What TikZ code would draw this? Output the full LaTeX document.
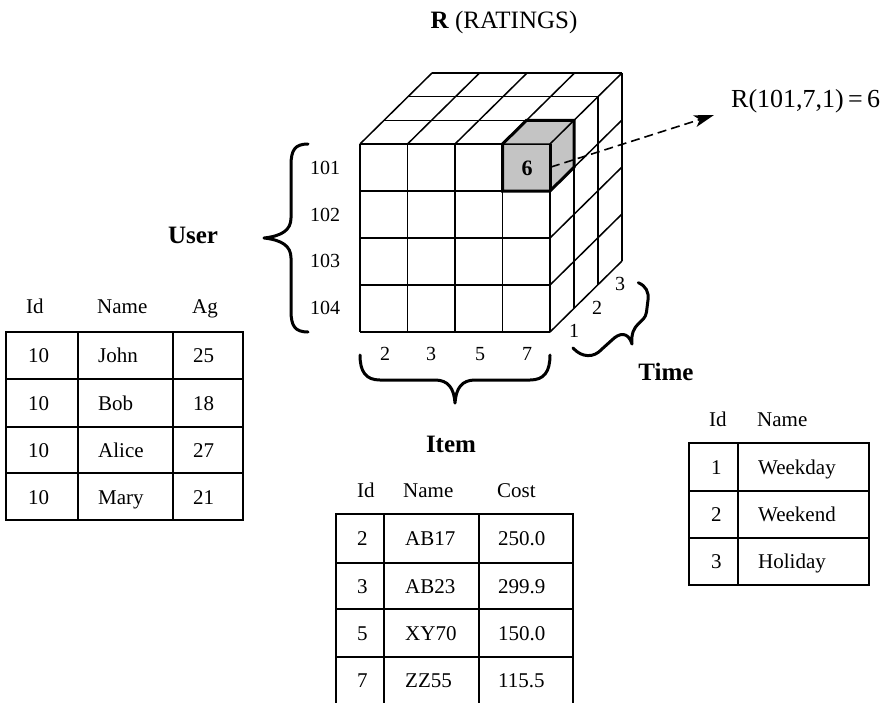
\documentclass[tikz,border=0pt]{standalone}
\usepackage{fontspec}
\setmainfont{Liberation Serif}
\usetikzlibrary{arrows.meta}
\definecolor{cellgray}{RGB}{196,196,196}
\begin{document}
\begin{tikzpicture}[x=1pt,y=-1pt,
  cube/.style={line width=1.5pt},
  tbl/.style={line width=2.2pt},
  hl/.style={line width=3pt,line join=miter},
  bracestyle/.style={line width=3pt,line cap=round,line join=round},
  txt/.style={anchor=base west,inner sep=0pt,font=\fontsize{21}{25}\selectfont},
  ctxt/.style={anchor=base,inner sep=0pt,font=\fontsize{20}{24}\selectfont},
  blabel/.style={anchor=base,inner sep=0pt,font=\fontsize{25}{30}\selectfont\bfseries}]
\useasboundingbox (0,0) rectangle (892,702);
% ---------- title
\node[anchor=base,inner sep=0pt,font=\fontsize{25}{30}\selectfont] (title) at (504,28) {\textbf{R} (RATINGS)};
% ---------- cube grid
\foreach \i in {0,...,4} \draw[cube] ({360+47.5*\i},144) -- ({360+47.5*\i},332);
\foreach \j in {0,...,4} \draw[cube] (360,{144+47*\j}) -- (550,{144+47*\j});
\foreach \i in {0,...,4} \draw[cube] ({360+47.5*\i},144) -- ++(72,-71);
\foreach \k in {1,...,3} \draw[cube] ({360+24*\k},{144-23.67*\k}) -- ++(190,0);
\foreach \k in {1,...,3} \draw[cube] ({550+24*\k},{144-23.67*\k}) -- ++(0,188);
\foreach \j in {1,...,4} \draw[cube] (550,{144+47*\j}) -- ++(72,-71);
% ---------- highlighted cell
\filldraw[hl,fill=cellgray] (502.5,144) -- (526.5,120.33) -- (574,120.33) -- (574,167.33) -- (550,191) -- (502.5,191) -- cycle;
\draw[cube] (502.5,144) -- (550,144) -- (574,120.33);
\draw[hl] (550,144) -- (550,191);
\node[anchor=base,inner sep=0pt,font=\fontsize{22}{26}\selectfont\bfseries] (six) at (527,175) {6};
% ---------- arrow and result label
\coordinate (arrstart) at (551,167);
\coordinate (arrend) at (714,115);
\draw[line width=1.6pt,dash pattern=on 9pt off 5pt,-{Stealth[length=20pt,width=12pt,inset=5pt]}] (arrstart) -- (arrend);
\node[anchor=base west,inner sep=0pt,font=\fontsize{26}{30}\selectfont] (rval) at (731,107) {R(101,7,1)\,=\,6};
% ---------- user labels and brace
\foreach \n/\y in {101/174,102/221,103/267,104/314} \node[ctxt] (u\n) at (325,\y) {\n};
\draw[bracestyle] (308,144) .. controls (295,144) and (291,150) .. (291,165) -- (291,218)
  .. controls (291,230) and (282,236) .. (264,238) .. controls (282,240) and (291,246) .. (291,258)
  -- (291,311) .. controls (291,326) and (295,332) .. (308,332);
\node[blabel] (user) at (193,243) {User};
% ---------- item labels and brace
\foreach \n/\x in {2/385,3/431,5/480,7/527} \node[ctxt] (i\n) at (\x,360) {\n};
\draw[bracestyle] (360,355) .. controls (360,372) and (366,380) .. (380,380) -- (435,380)
  .. controls (448,380) and (454,388) .. (455,403) .. controls (456,388) and (462,380) .. (475,380)
  -- (530,380) .. controls (544,380) and (550,372) .. (550,355);
\node[blabel] (item) at (451,452) {Item};
% ---------- time labels and brace
\node[ctxt] (t1) at (574,337) {1};
\node[ctxt] (t2) at (597,314) {2};
\node[ctxt] (t3) at (620,290) {3};
\draw[bracestyle] (638.3,282.7) .. controls (646,286) and (649,292) .. (648,300) -- (646.5,312)
  .. controls (645,324) and (630,322) .. (632,344) .. controls (628,331) and (619,333) .. (612,340)
  -- (602,349) .. controls (594,358) and (582,358) .. (573,348);
\node[blabel] (time) at (666,380) {Time};
% ---------- user table
\node[txt] (uhid) at (26,313) {Id};
\node[txt] (uhname) at (97,313) {Name};
\node[txt] (uhage) at (192,313) {Ag};
\draw[tbl] (6,331.7) rectangle (243,520);
\draw[tbl] (78,331.7) -- (78,520) (173,331.7) -- (173,520);
\draw[tbl] (6,379) -- (243,379) (6,426.7) -- (243,426.7) (6,473.3) -- (243,473.3);
\foreach \a/\b/\c/\y [count=\r] in {10/John/25/362.5,10/Bob/18/410,10/Alice/27/457,10/Mary/21/504}{
  \node[txt] (ua\r) at (28,\y) {\a};
  \node[txt] (ub\r) at (98,\y) {\b};
  \node[txt] (uc\r) at (193,\y) {\c};
}
% ---------- item table
\node[txt] (ihid) at (357,497) {Id};
\node[txt] (ihname) at (403,497) {Name};
\node[txt] (ihcost) at (497,497) {Cost};
\draw[tbl] (336,706) -- (336,514) -- (573,514) -- (573,706);
\draw[tbl] (384,514) -- (384,706) (479,514) -- (479,706);
\draw[tbl] (336,562.7) -- (573,562.7) (336,609.3) -- (573,609.3) (336,656.7) -- (573,656.7);
\foreach \a/\b/\c/\y [count=\r] in {2/AB17/250.0/545.5,3/AB23/299.9/593,5/XY70/150.0/640,7/ZZ55/115.5/687.5}{
  \node[txt] (ia\r) at (357,\y) {\a};
  \node[txt] (ib\r) at (405,\y) {\b};
  \node[txt] (ic\r) at (498,\y) {\c};
}
% ---------- time table
\node[txt] (thid) at (709,426) {Id};
\node[txt] (thname) at (757,426) {Name};
\draw[tbl] (689,443) rectangle (869,585);
\draw[tbl] (737.7,443) -- (737.7,585);
\draw[tbl] (689,491) -- (869,491) (689,538) -- (869,538);
\foreach \a/\b/\y [count=\r] in {1/Weekday/474,2/Weekend/521.5,3/Holiday/568.5}{
  \node[txt] (ta\r) at (711,\y) {\a};
  \node[txt] (tb\r) at (758,\y) {\b};
}
\end{tikzpicture}
\end{document}
